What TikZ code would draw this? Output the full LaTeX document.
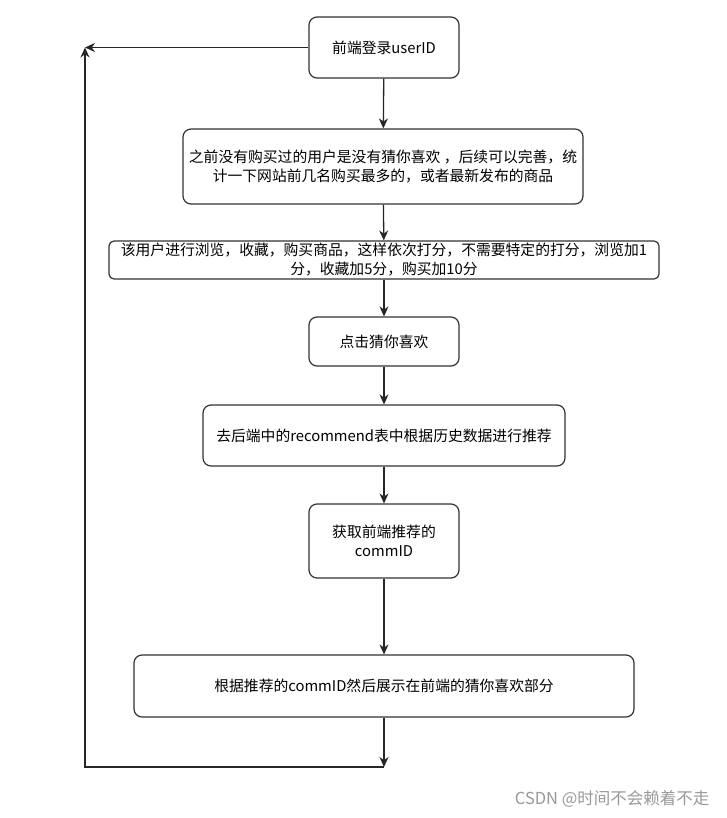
\documentclass[tikz,border=0pt]{standalone}
\usepackage{fontspec}
\setmainfont{Noto Sans CJK SC}
\setsansfont{Noto Sans CJK SC}
\usetikzlibrary{arrows.meta}

\begin{document}
\begin{tikzpicture}[x=1pt,y=-1pt]
  \useasboundingbox[fill=white] (0,0) rectangle (727,818);
  \begin{scope}[every node/.style={rectangle, rounded corners=8pt, draw=black!80, line width=1.2pt, inner sep=2pt, align=center, font=\fontsize{14.8}{19}\selectfont}]
    \node[minimum width=150, minimum height=61] (0) at (384,47.5) {前端登录userID};
    \node[minimum width=400, minimum height=75] (1) at (383,166.5) {之前没有购买过的用户是没有猜你喜欢 ，后续可以完善，统\\计一下网站前几名购买最多的，或者最新发布的商品};
    \node[minimum width=550, minimum height=38, rounded corners=5pt] (2) at (384,260) {该用户进行浏览，收藏，购买商品，这样依次打分，不需要特定的打分，浏览加1\\分，收藏加5分，购买加10分};
    \node[minimum width=150, minimum height=49] (3) at (384,341.5) {点击猜你喜欢};
    \node[minimum width=362, minimum height=61] (4) at (384,435.5) {去后端中的recommend表中根据历史数据进行推荐};
    \node[minimum width=150, minimum height=74] (5) at (384,541) {获取前端推荐的\\commID};
    \node[minimum width=500, minimum height=62] (6) at (384,686) {根据推荐的commID然后展示在前端的猜你喜欢部分};
  \end{scope}

  \coordinate (end) at (384,767);
  \coordinate (back) at (85,767);
  \coordinate (top) at (85,47.5);

  \begin{scope}[->,>={Stealth[length=10pt,width=9pt]}, line width=1.3pt, black!85]
    \draw (0) to (1);
    \draw (1) to (2);
    \draw (2) to (3);
    \draw (3) to (4);
    \draw (4) to (5);
    \draw (5) to (6);
    \draw (6) to (end);
    \draw (0) to (top);
    \draw (end) -- (back) -- (top);
  \end{scope}

  \node[text=black!40, font=\fontsize{16.5}{18}\selectfont, anchor=east] (mark) at (713,799) {CSDN @时间不会赖着不走};
\end{tikzpicture}
\end{document}
